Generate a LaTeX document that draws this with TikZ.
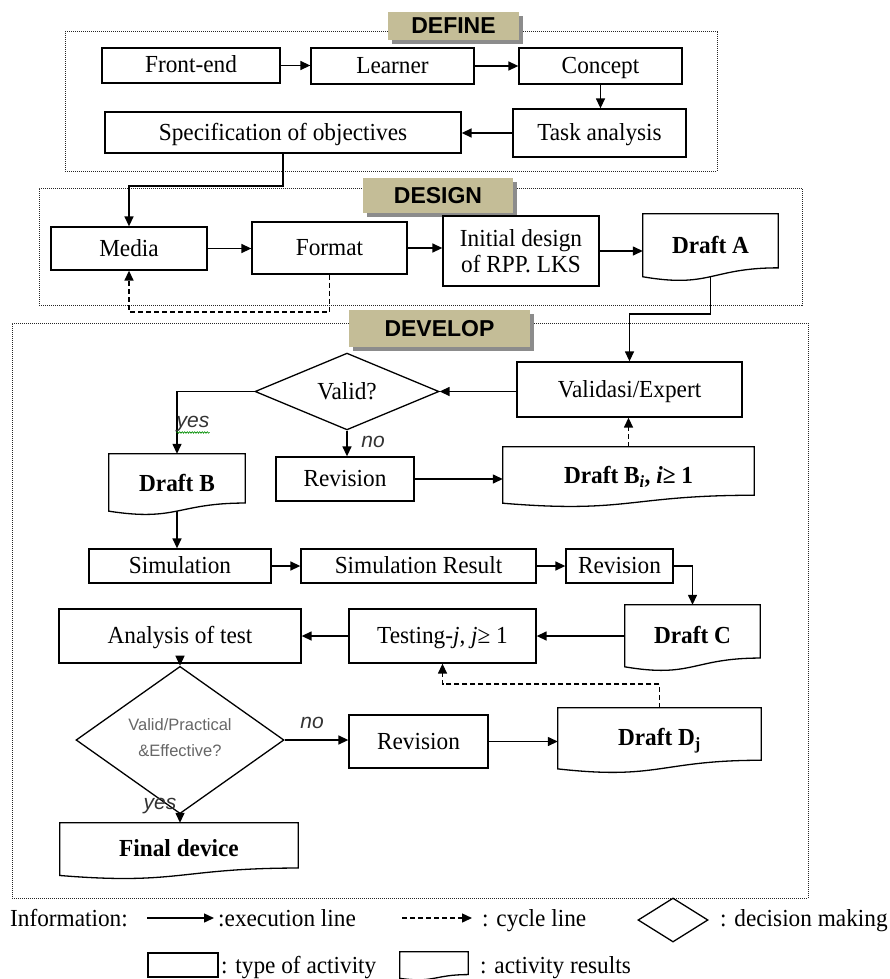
\documentclass[tikz,border=0pt]{standalone}
\usepackage{fontspec}
\setmainfont{Liberation Serif}[FakeStretch=0.95]
\newfontfamily\lblfont{Liberation Sans}
\usetikzlibrary{arrows.meta,calc,shapes.geometric,shadows,decorations.pathmorphing}
\definecolor{secttan}{HTML}{C4BD97}
\newcommand{\docoutline}[1]{%
  \draw[boxline] (#1.north west) -- (#1.north east) -- ($(#1.north east)!0.802!(#1.south east)$)
    .. controls ($(#1.north)!0.802!(#1.south)$) and ($(#1.north)!1.1075!(#1.south)$) ..
    ($(#1.north west)!0.934!(#1.south west)$) -- cycle;}
\begin{document}
\begin{tikzpicture}[x=1pt,y=-1pt,
  boxline/.style={draw=black, line width=1.3pt},
  mainfont/.style={font=\fontsize{24.5}{26}\selectfont},
  box/.style={boxline, inner sep=2pt, align=center, mainfont, text height=17pt, text depth=2pt},
  doc/.style={inner sep=0pt, align=center, mainfont},
  dia/.style={diamond, boxline, inner sep=0pt, align=center},
  arr/.style={-{Triangle[length=10pt,width=9pt]}, line width=1.4pt},
  darr/.style={arr, dash pattern=on 5pt off 3pt},
  frame/.style={draw=black!85, line width=1pt, dash pattern=on 1pt off 1pt, inner sep=0pt},
  secl/.style={fill=secttan, inner sep=0pt, font=\lblfont\bfseries\fontsize{23}{25}\selectfont,
     drop shadow={shadow xshift=4pt, shadow yshift=-4pt, fill=black!45, opacity=1}},
  yn/.style={inner sep=1pt, text=black!80, font=\lblfont\itshape\fontsize{21}{23}\selectfont},
  legtxt/.style={inner sep=1pt, mainfont, anchor=base west}]
\useasboundingbox (0,0) rectangle (889,979);

% frames
\node[frame, minimum width=652, minimum height=139] (fdef) at (391,101.5) {};
\node[frame, minimum width=763, minimum height=117] (fdes) at (420.5,246.5) {};
\node[frame, minimum width=796, minimum height=575] (fdev) at (410,610.5) {};

% section labels
\node[secl, minimum width=131, minimum height=28] (ldef) at (453.5,26) {DEFINE};
\node[secl, minimum width=150, minimum height=35] (ldes) at (438,195.5) {DESIGN};
\node[secl, minimum width=181, minimum height=37] (ldev) at (439.5,328.5) {DEVELOP};

% DEFINE
\node[box, minimum width=178, minimum height=35] (fe) at (191,65.5) {Front-end};
\node[box, minimum width=163, minimum height=36] (le) at (392.5,66) {Learner};
\node[box, minimum width=163, minimum height=36] (co) at (600.5,66) {Concept};
\node[box, minimum width=173, minimum height=48] (ta) at (599.5,133) {Task analysis};
\node[box, minimum width=356, minimum height=41] (so) at (283,132.5) {Specification of objectives};
\draw[arr] (fe.east) -- (fe.east -| le.west);
\draw[arr] (le.east) -- (le.east -| co.west);
\draw[arr] (co.south) -- (co.south |- ta.north);
\draw[arr] (ta.west) -- (ta.west -| so.east);

% DESIGN
\node[box, minimum width=156, minimum height=43] (me) at (129,248.5) {Media};
\node[box, minimum width=155, minimum height=52] (fo) at (329.5,248) {Format};
\node[box, minimum width=156, minimum height=70, text height=, text depth=] (id) at (521,251) {Initial design\\of RPP. LKS};
\node[doc, minimum width=135, minimum height=67] (da) at (710.5,247.5) {\raisebox{6pt}{\textbf{Draft A}}};
\coordinate (j1) at (0,186);
\coordinate (j2) at (0,312);
\coordinate (j3) at (0,314);
\coordinate (dab) at ($(da.north)!0.933!(da.south)$);
\draw[arr] (so.south) -- (so.south |- j1) -| (me.north);
\draw[arr] (me.east) -- (me.east -| fo.west);
\draw[arr] (fo.east) -- (fo.east -| id.west);
\draw[arr] (id.east) -- (id.east -| da.west);
\draw[darr] (fo.south) -- (fo.south |- j2) -| (me.south);

% DEVELOP
\node[box, minimum width=225, minimum height=55] (va) at (629.5,389.5) {Validasi/Expert};
\node[dia, minimum width=184, minimum height=71, mainfont] (vd) at (347,391.5) {Valid?};
\node[doc, minimum width=136, minimum height=61] (db) at (177,484.5) {\raisebox{4pt}{\textbf{Draft B}}};
\node[box, minimum width=138, minimum height=44] (rv1) at (345,479) {Revision};
\node[doc, minimum width=251, minimum height=60] (dbi) at (628.5,477) {\raisebox{2pt}{\textbf{Draft B\textsubscript{\textit{i}}, \textit{i}≥ 1}}};
\draw[arr] (dab) -- (dab |- j3) -| (va.north);
\draw[arr] (va.west |- vd.east) -- (vd.east);
\draw[arr] (vd.west) -| (db.north);
\draw[arr] (vd.south) -- (vd.south |- rv1.north);
\draw[arr] (rv1.east) -- (rv1.east -| dbi.west);
\draw[darr] (dbi.north) -- (dbi.north |- va.south);
\node[yn] (yes1) at (193,424) {yes};
\node[yn] (no1) at (373,442) {no};
\draw[green!55!black, line width=0.6pt, decorate, decoration={snake, amplitude=0.8pt, segment length=2.5pt}]
  ($(yes1.base west)+(1,5)$) -- ($(yes1.base east)+(-1,5)$);

\node[box, minimum width=182, minimum height=34] (si) at (180,566) {Simulation};
\node[box, minimum width=235, minimum height=34] (sr) at (418.5,566) {Simulation Result};
\node[box, minimum width=107, minimum height=34] (rv2) at (619.5,566) {Revision};
\coordinate (dbb) at ($(db.north)!0.933!(db.south)$);
\draw[arr] (dbb) -- (dbb |- si.north);
\draw[arr] (si.east) -- (si.east -| sr.west);
\draw[arr] (sr.east) -- (sr.east -| rv2.west);

\node[doc, minimum width=135, minimum height=66] (dc) at (692.5,638) {\raisebox{7pt}{\textbf{Draft C}}};
\node[box, minimum width=187, minimum height=54] (te) at (442.5,636) {Testing-\textit{j}, \textit{j}≥ 1};
\node[box, minimum width=242, minimum height=54] (an) at (180,636) {Analysis of test};
\draw[arr] (rv2.east) -| (dc.north);
\draw[arr] (dc.west |- te.east) -- (te.east);
\draw[arr] (te.west) -- (te.west -| an.east);

\node[dia, minimum width=208, minimum height=100, text=black!60, font=\lblfont\fontsize{16.5}{18}\selectfont] (vd2) at (180,740)
  {\raisebox{-5pt}{\begin{tabular}{@{}c@{}}Valid/Practical\\[8pt]\&Effective?\end{tabular}}};
\node[box, minimum width=139, minimum height=53] (rv3) at (418.5,741.5) {Revision};
\node[doc, minimum width=203, minimum height=65] (ddj) at (659.5,740.5) {\raisebox{7pt}{\textbf{Draft D\textsubscript{j}}}};
\node[doc, minimum width=238, minimum height=56] (fd) at (179,851) {\raisebox{6pt}{\textbf{Final device}}};
\coordinate (j4) at (0,684);
\draw[arr] (an.south) -- (an.south |- vd2.north);
\draw[arr] (vd2.east) -- (vd2.east -| rv3.west);
\draw[arr] (rv3.east) -- (rv3.east -| ddj.west);
\draw[darr] (ddj.north) -- (ddj.north |- j4) -| (te.south);
\draw[arr] (vd2.south) -- (vd2.south |- fd.north);
\node[yn] (no2) at (312,723) {no};
\node[yn] (yes2) at (160,806) {yes};

% legend
\node[legtxt] (linfo) at (9,926) {Information:};
\coordinate (e1a) at (147,918);
\coordinate (e1b) at (214,918);
\draw[arr] (e1a) -- (e1b);
\node[legtxt] (lexe) at (217,926) {:execution line};
\coordinate (e2a) at (402,918);
\coordinate (e2b) at (472,918);
\draw[darr] (e2a) -- (e2b);
\node[legtxt] (lcyc) at (481,926) {: cycle line};
\node[dia, minimum width=70, minimum height=44] (ldia) at (673,920) {};
\node[legtxt] (ldec) at (719,926) {: decision making};
\node[box, minimum width=70, minimum height=24] (lrect) at (183,965) {};
\node[legtxt] (ltype) at (220,973) {: type of activity};
\node[doc, minimum width=68, minimum height=28] (ldoc) at (434,966) {};
\node[legtxt] (lres) at (479,973) {: activity results};

\foreach \n in {da,db,dbi,dc,ddj,fd,ldoc} {\docoutline{\n}}
\end{tikzpicture}
\end{document}
